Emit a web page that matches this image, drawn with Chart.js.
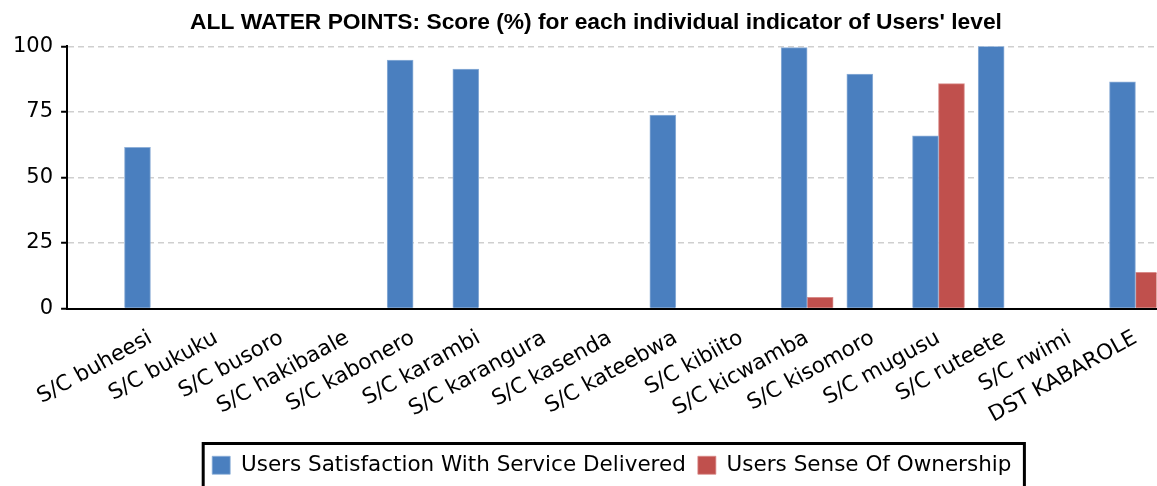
<!DOCTYPE html>
<html>
<head>
<meta charset="utf-8">
<script src="https://cdn.jsdelivr.net/npm/chart.js@4"></script>
<style>
  body { margin: 0; background: #fff; }
  canvas { display: block; }
</style>
</head>
<body>
<canvas id="chart" width="1157" height="486"></canvas>
<script>
// sub-counties on the x axis
const categories = [
  'S/C buheesi', 'S/C bukuku', 'S/C busoro', 'S/C hakibaale',
  'S/C kabonero', 'S/C karambi', 'S/C karangura', 'S/C kasenda',
  'S/C kateebwa', 'S/C kibiito', 'S/C kicwamba', 'S/C kisomoro',
  'S/C mugusu', 'S/C ruteete', 'S/C rwimi', 'DST KABAROLE'
];
const satisfaction = [61.5, 0, 0, 0, 94.8, 91.3, 0, 0, 73.8, 0, 99.5, 89.4, 65.9, 100, 0, 86.5];
const ownership = [0, 0, 0, 0, 0, 0, 0, 0, 0, 0, 4.3, 0, 85.8, 0, 0, 13.8];
const yTicks = [0, 25, 50, 75, 100];

const FONT = 'DejaVu Sans';

// black frame round the legend, title nudged right a little
const legendFrame = {
  id: 'legendFrame',
  afterLayout(chart) {
    const tb = chart.titleBlock;
    if (tb) { tb.left += 15; tb.right += 15; }
  },
  afterDraw(chart) {
    const lg = chart.legend;
    if (!lg || !lg.legendHitBoxes.length) return;
    const boxes = lg.legendHitBoxes;
    const last = boxes[boxes.length - 1];
    const left = boxes[0].left - 9;
    const right = last.left + last.width + 13;
    const top = boxes[0].top - 11;
    const ctx = chart.ctx;
    ctx.save();
    ctx.strokeStyle = '#000';
    ctx.lineWidth = 3;
    ctx.strokeRect(left, top, right - left, chart.height + 4 - top);
    ctx.restore();
  }
};

new Chart(document.getElementById('chart'), {
  type: 'bar',
  data: {
    datasets: [
      {
        label: 'Users Satisfaction With Service Delivered',
        data: satisfaction.map((v, i) => ({x: i, y: v})),
        backgroundColor: '#4A7FBF',
        borderColor: '#8FB0D8',
        borderWidth: {top: 1, left: 1, right: 1, bottom: 0},
      },
      {
        label: 'Users Sense Of Ownership',
        data: ownership.map((v, i) => ({x: i, y: v})),
        backgroundColor: '#C0504D',
        borderColor: '#D98B89',
        borderWidth: {top: 1, left: 1, right: 1, bottom: 0},
      },
    ],
  },
  options: {
    responsive: false,
    animation: false,
    barThickness: 26,
    layout: {padding: {left: 5, right: 0, top: 0, bottom: 0}},
    scales: {
      x: {
        type: 'linear',
        offset: false,
        min: -1.27,
        max: 15.32,
        grid: {display: false},
        border: {color: '#000', width: 2},
        afterBuildTicks: s => { s.ticks = categories.map((c, i) => ({value: i})); },
        afterFit: s => { s.height = 134; },
        ticks: {
          autoSkip: false,
          minRotation: 29,
          maxRotation: 29,
          padding: 9,
          color: '#000',
          font: {family: FONT, size: 21.5},
          callback: v => categories[v],
        },
      },
      y: {
        min: 0,
        max: 100,
        afterBuildTicks: s => { s.ticks = yTicks.map(v => ({value: v})); },
        border: {color: '#000', width: 2, dash: [6, 4]},
        grid: {
          color: '#CFCFCF',
          lineWidth: 1.5,
          tickLength: 6,
          tickColor: '#000',
          tickWidth: 2,
          tickBorderDash: [],
        },
        ticks: {
          padding: 8,
          color: '#000',
          font: {family: FONT, size: 21},
        },
      },
    },
    plugins: {
      title: {
        display: true,
        text: "ALL WATER POINTS: Score (%) for each individual indicator of Users' level",
        color: '#000',
        font: {family: 'Liberation Sans', size: 22.8, weight: 'bold'},
        padding: {top: 9, bottom: 10},
      },
      legend: {
        position: 'bottom',
        fullSize: false,
        labels: {
          color: '#000',
          boxWidth: 18,
          boxHeight: 18,
          padding: 12,
          font: {family: FONT, size: 21.5},
        },
      },
      tooltip: {enabled: false},
    },
  },
  plugins: [legendFrame],
});
</script>
</body>
</html>
